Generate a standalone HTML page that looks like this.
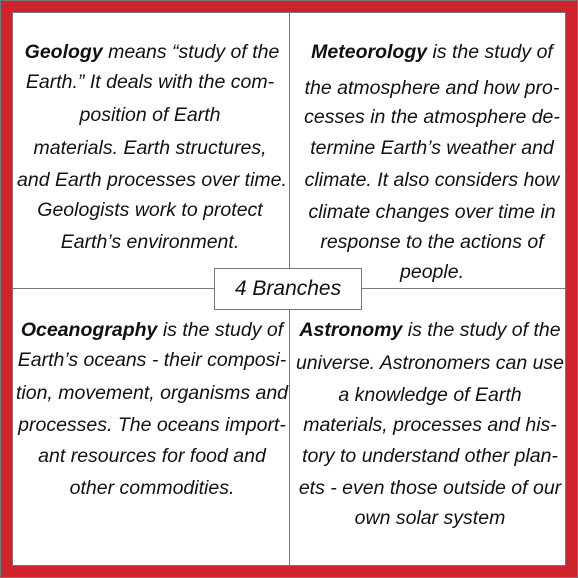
<!DOCTYPE html>
<html><head><meta charset="utf-8"><style>
body{margin:0;width:578px;height:578px;background:#fff;position:relative;overflow:hidden;font-family:"Liberation Sans",sans-serif;font-style:italic;}
.frame{position:absolute;left:0;top:0;width:576px;height:576px;border:1px solid #777;background:#d0222b;}
.inner{position:absolute;left:12px;top:12px;width:552px;height:552px;border:1px solid #777;background:#fff;}
.v{position:absolute;left:289px;top:13px;width:1px;height:553px;background:#777;}
.h{position:absolute;top:288px;left:13px;width:553px;height:1px;background:#777;}
.box{position:absolute;left:214px;top:268px;width:146px;height:40px;border:1px solid #777;background:#fff;text-align:center;line-height:40px;font-size:21px;color:#111;}
.l{position:absolute;white-space:nowrap;font-size:19.5px;color:#111;transform:translateX(-50%);line-height:22px;}
b{font-weight:bold;}
</style></head><body>
<div class="frame"></div><div class="inner"></div>
<div class="v"></div><div class="h"></div>
<div class="box">4 Branches</div>

<div class="l" style="left:152px;top:41px"><b>Geology</b> means “study of the</div>
<div class="l" style="left:150px;top:71px">Earth.” It deals with the com-</div>
<div class="l" style="left:150px;top:104px">position of Earth</div>
<div class="l" style="left:150px;top:137px">materials. Earth structures,</div>
<div class="l" style="left:152px;top:169px">and Earth processes over time.</div>
<div class="l" style="left:150px;top:199px">Geologists work to protect</div>
<div class="l" style="left:150px;top:231px">Earth’s environment.</div>

<div class="l" style="left:432px;top:41px"><b>Meteorology</b> is the study of</div>
<div class="l" style="left:432px;top:77px">the atmosphere and how pro-</div>
<div class="l" style="left:432px;top:106px">cesses in the atmosphere de-</div>
<div class="l" style="left:432px;top:137px">termine Earth’s weather and</div>
<div class="l" style="left:432px;top:169px">climate. It also considers how</div>
<div class="l" style="left:432px;top:201px">climate changes over time in</div>
<div class="l" style="left:432px;top:231px">response to the actions of</div>
<div class="l" style="left:432px;top:261px">people.</div>

<div class="l" style="left:152px;top:319px"><b>Oceanography</b> is the study of</div>
<div class="l" style="left:152px;top:349px">Earth’s oceans - their composi-</div>
<div class="l" style="left:152px;top:382px">tion, movement, organisms and</div>
<div class="l" style="left:152px;top:414px">processes. The oceans  import-</div>
<div class="l" style="left:152px;top:445px">ant resources for food and</div>
<div class="l" style="left:152px;top:477px">other commodities.</div>

<div class="l" style="left:430px;top:319px"><b>Astronomy</b> is the study of the</div>
<div class="l" style="left:430px;top:352px">universe. Astronomers can use</div>
<div class="l" style="left:430px;top:384px">a knowledge of Earth</div>
<div class="l" style="left:430px;top:414px">materials, processes and his-</div>
<div class="l" style="left:430px;top:445px">tory to understand other plan-</div>
<div class="l" style="left:430px;top:477px">ets - even those outside of our</div>
<div class="l" style="left:430px;top:507px">own solar system</div>
</body></html>
